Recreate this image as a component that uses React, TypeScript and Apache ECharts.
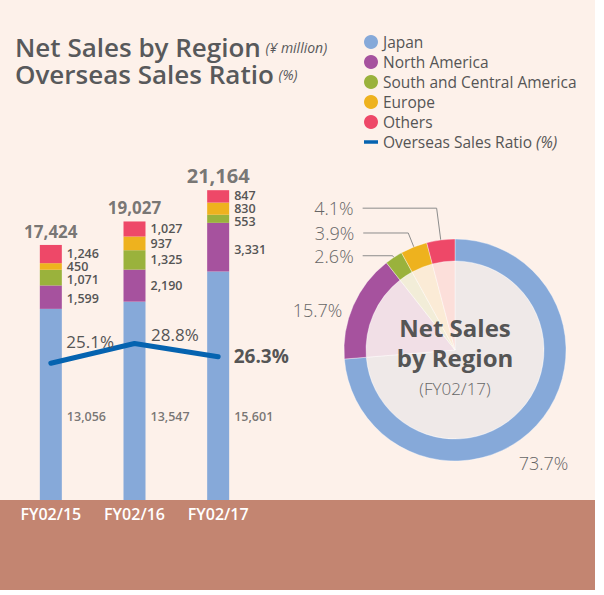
import React, { useEffect, useRef } from "react";
import * as echarts from "echarts";

const CATEGORIES = ["FY02/15", "FY02/16", "FY02/17"];
const JAPAN = [13056, 13547, 15601];
const NORTH_AMERICA = [1599, 2190, 3331];
const SOUTH_CENTRAL = [1071, 1325, 553];
const EUROPE = [450, 937, 830];
const OTHERS = [1246, 1027, 847];
const TOTALS = [17424, 19027, 21164];
const RATIO = [25.1, 28.8, 26.3];
const PIE_NAMES = ["Japan", "North America", "South and Central America", "Europe", "Others"];
const PIE_SHARE = [73.7, 15.7, 2.6, 3.9, 4.1];

const FONT = "'Open Sans', 'Noto Sans', sans-serif";
const COLORS = ["#86A9D9", "#A6529E", "#9AB23C", "#EEB21E", "#EE4868"];
const PALE = ["#EFE9E8", "#F1DFE6", "#F2EDD8", "#FBEBD6", "#FCDFDA"];
const LINE_COLOR = "#0563B0";
const TEXT = "#555555";

// styling helpers (not data)
const TOTAL_FONT = [17, 17, 20];
const RATIO_LABEL_OFFSET = [[10, -22], [11, -9], [10, -1]];
const RATIO_LABEL_FONT = [17, 17, 19];
const RATIO_LABEL_WEIGHT = [500, 500, 700];
const SEG_LABEL_DY = [
  [0, 0, 0],
  [1, 0, 2],
  [2, 0, 2.5],
  [0, 0, 0],
  [-1, 0, -1],
];
const PIE_LINE = [
  { show: false, length: 0, length2: 0 },
  { show: false, length: 0, length2: 0 },
  { show: true, length: 2, length2: 30 },
  { show: true, length: 15, length2: 45 },
  { show: true, length: 32, length2: 74 },
];
const PIE_SHIFT = [[-27, 38], [-2, 4], [0, 0], [0, 0], [0, 0]];
const JAPAN_LABEL_LEVEL = 5735;

const SERIES_VALUES = [JAPAN, NORTH_AMERICA, SOUTH_CENTRAL, EUROPE, OTHERS];

export default function App() {
  const ref = useRef<HTMLDivElement>(null);
  useEffect(() => {
    const chart = echarts.init(ref.current!, null, { renderer: "svg" });
    const fmt = (v: number) => v.toLocaleString("en-US");

    const segLabel = {
      color: TEXT,
      fontSize: 12.5,
      lineHeight: 12,
      fontWeight: 600,
      fontFamily: FONT,
    };

    const barSeries: any[] = PIE_NAMES.map((name, i) => ({
      name,
      type: "bar",
      stack: "sales",
      barWidth: 22,
      xAxisIndex: 0,
      yAxisIndex: 0,
      data: SERIES_VALUES[i].map((v, j) => ({
        value: v,
        label: { offset: [0, SEG_LABEL_DY[i][j]] },
      })),
      itemStyle: { color: COLORS[i] },
      label: {
        show: i > 0,
        position: "right",
        distance: 5,
        ...segLabel,
        formatter: (p: any) => fmt(p.value),
      },
    }));

    const titleRich = {
      a: { fontSize: 26, fontWeight: 600, color: "#58595B", fontFamily: FONT, lineHeight: 26 },
      b: { fontSize: 14, fontWeight: "normal", fontStyle: "italic", color: "#58595B", fontFamily: FONT, lineHeight: 26 },
    };

    const option: any = {
      animation: false,
      backgroundColor: "transparent",
      textStyle: { fontFamily: FONT },
      title: [
        {
          left: 15,
          top: 34,
          padding: 0,
          text: "{a|Net Sales by Region} {b|(¥ million)}",
          textStyle: { rich: titleRich },
        },
        {
          left: 15,
          top: 61,
          padding: 0,
          text: "{a|Overseas Sales Ratio} {b|(%)}",
          textStyle: { rich: titleRich },
        },
      ],
      legend: {
        orient: "vertical",
        left: 359,
        top: 29,
        itemWidth: 14,
        itemHeight: 14,
        itemGap: 4,
        textStyle: {
          fontSize: 15.5,
          color: TEXT,
          fontFamily: FONT,
          rich: { i: { fontSize: 15.5, fontStyle: "italic", color: TEXT, fontFamily: FONT } },
        },
        formatter: (name: string) =>
          name === "Overseas Sales Ratio" ? "Overseas Sales Ratio {i|(%)}" : name,
        data: [
          ...PIE_NAMES.map((n) => ({ name: n, icon: "circle" })),
          { name: "Overseas Sales Ratio", icon: "path://M0 0H16V4H0Z" },
        ],
      },
      grid: { left: 9, width: 251, top: 134, height: 366 },
      xAxis: {
        type: "category",
        data: CATEGORIES,
        axisLine: { show: false },
        axisTick: { show: false },
        axisLabel: { color: "#FFFFFF", fontSize: 16, fontWeight: 600, fontFamily: FONT, margin: 6 },
      },
      yAxis: [
        { type: "value", min: 0, max: 25000, show: false },
        { type: "value", min: -0.5, max: 68, show: false },
      ],
      series: [
        ...barSeries,
        {
          name: "JapanLabels",
          type: "scatter",
          yAxisIndex: 0,
          symbolSize: 0,
          silent: true,
          data: JAPAN.map(() => JAPAN_LABEL_LEVEL),
          label: {
            show: true,
            position: "right",
            distance: 16,
            ...segLabel,
            formatter: (p: any) => fmt(JAPAN[p.dataIndex]),
          },
          z: 5,
        },
        {
          name: "Totals",
          type: "scatter",
          yAxisIndex: 0,
          symbolSize: 0,
          silent: true,
          data: TOTALS.map((v, i) => ({ value: v, label: { fontSize: TOTAL_FONT[i] } })),
          label: {
            show: true,
            position: "top",
            distance: 5,
            color: TEXT,
            fontWeight: 700,
            fontFamily: FONT,
            formatter: (p: any) => fmt(TOTALS[p.dataIndex]),
          },
          z: 5,
        },
        {
          name: "Overseas Sales Ratio",
          type: "line",
          yAxisIndex: 1,
          symbol: "circle",
          symbolSize: 1,
          itemStyle: { color: LINE_COLOR },
          lineStyle: { color: LINE_COLOR, width: 5, cap: "round", join: "round" },
          data: RATIO.map((v, i) => ({
            value: v,
            label: {
              offset: RATIO_LABEL_OFFSET[i],
              fontSize: RATIO_LABEL_FONT[i],
              fontWeight: RATIO_LABEL_WEIGHT[i],
            },
          })),
          label: {
            show: true,
            position: "right",
            distance: 5,
            color: TEXT,
            fontFamily: FONT,
            formatter: (p: any) => RATIO[p.dataIndex].toFixed(1) + "%",
          },
          z: 10,
        },
        {
          name: "PieInner",
          type: "pie",
          center: [455, 350],
          radius: [0, 89],
          startAngle: 90,
          silent: true,
          label: { show: false },
          labelLine: { show: false },
          itemStyle: { borderColor: "rgba(255,255,255,0.7)", borderWidth: 0.6 },
          data: PIE_SHARE.map((v, i) => ({
            value: v,
            name: PIE_NAMES[i] + " ",
            itemStyle: { color: PALE[i] },
          })),
          z: 1,
        },
        {
          name: "PieRing",
          type: "pie",
          center: [455, 350],
          radius: [89, 111],
          startAngle: 90,
          silent: true,
          avoidLabelOverlap: false,
          itemStyle: { borderColor: "rgba(255,255,255,0.6)", borderWidth: 0.6 },
          label: {
            show: true,
            position: "outside",
            fontSize: 18,
            fontWeight: 300,
            color: "#666666",
            fontFamily: FONT,
            distanceToLabelLine: 9,
            formatter: (p: any) => PIE_SHARE[p.dataIndex].toFixed(1) + "%",
          },
          labelLine: { show: true, lineStyle: { color: "#8C8C8C", width: 1 } },
          labelLayout: (p: any) => ({ dx: PIE_SHIFT[p.dataIndex][0], dy: PIE_SHIFT[p.dataIndex][1] }),
          data: PIE_SHARE.map((v, i) => ({
            value: v,
            name: PIE_NAMES[i],
            itemStyle: { color: COLORS[i] },
            labelLine: PIE_LINE[i],
          })),
          z: 2,
        },
      ],
      graphic: [
        {
          type: "text",
          x: 455,
          y: 327,
          style: {
            text: "Net Sales",
            align: "center",
            verticalAlign: "middle",
            fontSize: 24,
            fontWeight: 700,
            fontFamily: FONT,
            fill: TEXT,
          },
          z: 20,
        },
        {
          type: "text",
          x: 455,
          y: 357,
          style: {
            text: "by Region",
            align: "center",
            verticalAlign: "middle",
            fontSize: 24,
            fontWeight: 700,
            fontFamily: FONT,
            fill: TEXT,
          },
          z: 20,
        },
        {
          type: "text",
          x: 455,
          y: 388,
          style: {
            text: "(FY02/17)",
            align: "center",
            verticalAlign: "middle",
            fontSize: 17,
            fontWeight: 300,
            fontFamily: FONT,
            fill: "#666666",
          },
          z: 20,
        },
      ],
    };
    chart.setOption(option);
    return () => chart.dispose();
  }, []);
  return (
    <div
      ref={ref}
      style={{
        position: "absolute",
        left: 0,
        top: 0,
        width: 595,
        height: 590,
        background: "linear-gradient(to bottom, #FDF1EA 0px, #FDF1EA 500px, #C38571 500px, #C38571 590px)",
      }}
    />
  );
}
